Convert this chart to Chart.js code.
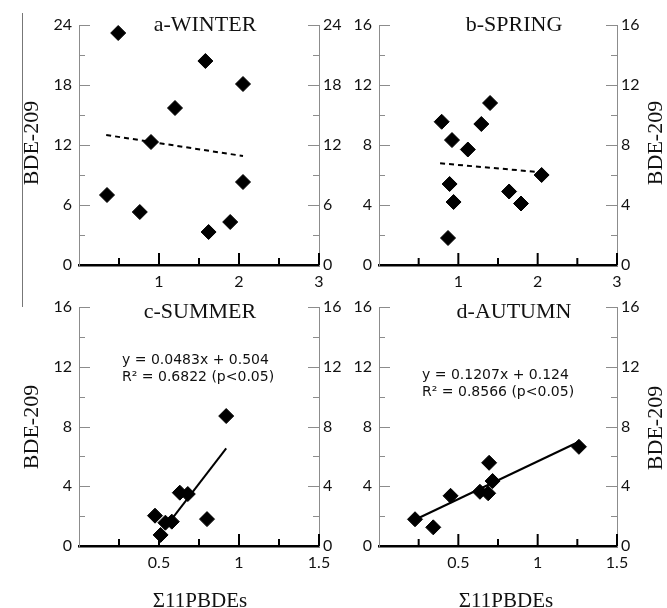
<!DOCTYPE html>
<html>
<head>
<meta charset="utf-8">
<script src="https://cdn.jsdelivr.net/npm/chart.js@4.4.0/dist/chart.umd.min.js"></script>
<style>
  body { margin: 0; background: #fff; }
  #wrap { position: relative; width: 667px; height: 608px; }
  canvas { position: absolute; }
  #rule { position: absolute; left: 22px; top: 13px; height: 294px; border-left: 1.5px solid #777; }
</style>
</head>
<body>
<div id="wrap">
  <div id="rule"></div>
  <canvas id="winter" width="346" height="290" style="left:0;top:0"></canvas>
  <canvas id="spring" width="321" height="290" style="left:346px;top:0"></canvas>
  <canvas id="summer" width="346" height="318" style="left:0;top:290px"></canvas>
  <canvas id="autumn" width="321" height="318" style="left:346px;top:290px"></canvas>
</div>
<script>
// values
const winterX = [0.49, 1.58, 2.05, 1.20, 0.90, 0.35, 0.76, 2.05, 1.89, 1.62];
const winterY = [23.2, 20.4, 18.1, 15.7, 12.3, 7.0, 5.3, 8.3, 4.3, 3.3];
const winterFitX = [0.34, 2.05];
const winterFitY = [13.0, 10.9];

const springX = [0.79, 1.40, 1.29, 0.92, 1.12, 2.05, 0.89, 1.64, 0.94, 1.79, 0.87];
const springY = [9.55, 10.8, 9.4, 8.33, 7.7, 6.0, 5.4, 4.9, 4.2, 4.1, 1.8];
const springFitX = [0.77, 2.05];
const springFitY = [6.78, 6.18];

const summerX = [0.92, 0.63, 0.68, 0.475, 0.54, 0.58, 0.51, 0.80];
const summerY = [8.7, 3.57, 3.48, 2.03, 1.56, 1.63, 0.74, 1.8];
const summerFitX = [0.54, 0.92];
const summerFitY = [1.25, 6.53];

const autumnX = [0.227, 0.342, 0.451, 0.636, 0.688, 0.694, 0.716, 1.26];
const autumnY = [1.79, 1.25, 3.36, 3.63, 3.53, 5.57, 4.35, 6.64];
const autumnFitX = [0.233, 1.26];
const autumnFitY = [1.79, 6.98];

// tick labels
const xLabelsTop = [1, 2, 3];
const xLabelsBottom = [0.5, 1, 1.5];
const yLabelsWinter = [0, 6, 12, 18, 24];
const yLabelsOther = [0, 4, 8, 12, 16];

const tickFont = { family: 'Lato', size: 16 };
const serif = '"Liberation Serif", serif';

function pts(xs, ys) {
  return xs.map((x, i) => ({ x: x, y: ys[i] }));
}

// inward ticks and the texts of each panel
const panelPlugin = {
  id: 'panel',
  beforeDatasetsDraw(chart, args, o) {
    const ctx = chart.ctx;
    const area = chart.chartArea;
    const sx = chart.scales.x;
    ctx.save();
    ctx.strokeStyle = '#8c8c8c';
    ctx.lineWidth = 1;
    [[chart.scales.y, area.left, 1], [chart.scales.y2, area.right, -1]].forEach(([s, edge, dir]) => {
      s.ticks.forEach(t => {
        if (t.value <= s.min) return;
        const py = Math.round(s.getPixelForValue(t.value)) + 0.5;
        const len = o.yLabels.includes(t.value) ? 11 : 6;
        ctx.beginPath();
        ctx.moveTo(edge, py);
        ctx.lineTo(edge + dir * len, py);
        ctx.stroke();
      });
    });
    ctx.strokeStyle = '#000';
    ctx.lineWidth = 2;
    sx.ticks.forEach(t => {
      if (t.value <= sx.min) return;
      const px = sx.getPixelForValue(t.value);
      const len = o.xLabels.includes(t.value) ? 12 : 7;
      ctx.beginPath();
      ctx.moveTo(px, area.bottom);
      ctx.lineTo(px, area.bottom - len);
      ctx.stroke();
    });
    ctx.restore();
  },
  afterDraw(chart, args, o) {
    const ctx = chart.ctx;
    ctx.save();
    ctx.fillStyle = '#111';
    ctx.font = '22px ' + serif;
    ctx.textAlign = 'center';
    ctx.textBaseline = 'alphabetic';
    ctx.fillText(o.title, o.titleX, o.titleY);

    if (o.axisTitleX) {
      ctx.font = '21px ' + serif;
      ctx.fillText('Σ11PBDEs', o.axisTitleX[0], o.axisTitleX[1]);
    }

    ctx.font = '22px ' + serif;
    ctx.textBaseline = 'middle';
    ctx.save();
    ctx.translate(o.sideX, o.sideY);
    ctx.rotate(-Math.PI / 2);
    ctx.fillText('BDE-209', 0, 0);
    ctx.restore();

    if (o.eq) {
      ctx.font = '14px "DejaVu Sans"';
      ctx.textAlign = 'left';
      ctx.textBaseline = 'alphabetic';
      o.eq.forEach((line, i) => ctx.fillText(line, o.eqX, o.eqY + i * 17));
    }
    ctx.restore();
  }
};

function makePanel(id, c) {
  const w = c.width, h = c.height;
  const yAxis = (pos, width) => ({
    type: 'linear',
    position: pos,
    min: 0,
    max: c.yMax,
    afterFit: s => { s.width = width; },
    grid: { display: false, drawTicks: false },
    border: { color: '#8c8c8c', width: 1 },
    ticks: {
      stepSize: c.yStep,
      padding: pos === 'left' ? 7 : 4,
      color: '#111',
      font: tickFont,
      autoSkip: false,
      callback: v => c.yLabels.includes(v) ? String(v) : ''
    }
  });
  new Chart(document.getElementById(id), {
    type: 'scatter',
    data: {
      datasets: [
        {
          data: pts(c.xs, c.ys),
          pointStyle: 'rectRot',
          pointRadius: 7.5,
          pointBackgroundColor: '#000',
          pointBorderColor: '#000',
          pointBorderWidth: 1
        },
        {
          data: pts(c.fitX, c.fitY),
          showLine: true,
          borderColor: '#000',
          borderWidth: 2,
          borderDash: c.dashed ? [5, 4] : [],
          pointRadius: 0
        }
      ]
    },
    options: {
      responsive: false,
      animation: false,
      layout: { padding: { left: 0, right: 0, top: c.area.t, bottom: 0 } },
      plugins: {
        legend: { display: false },
        tooltip: { enabled: false },
        panel: c.text
      },
      scales: {
        x: {
          type: 'linear',
          min: 0,
          max: c.xMax,
          afterFit: s => { s.height = h - c.area.b; },
          grid: { display: false, drawTicks: false },
          border: { color: '#000', width: 2.5 },
          ticks: {
            stepSize: c.xStep,
            padding: 7,
            color: '#111',
            font: tickFont,
            autoSkip: false,
            maxRotation: 0,
            callback: v => c.xLabels.includes(v) ? String(v) : ''
          }
        },
        y: yAxis('left', c.area.l),
        y2: yAxis('right', w - c.area.r)
      }
    },
    plugins: [panelPlugin]
  });
}

makePanel('winter', {
  width: 346, height: 290, area: { l: 79, r: 319, t: 25, b: 265 },
  xs: winterX, ys: winterY, fitX: winterFitX, fitY: winterFitY, dashed: true,
  xMax: 3, xStep: 0.5, xLabels: xLabelsTop, yMax: 24, yStep: 3, yLabels: yLabelsWinter,
  text: { title: 'a-WINTER', titleX: 205, titleY: 31, sideX: 32, sideY: 143,
          xLabels: xLabelsTop, yLabels: yLabelsWinter }
});

makePanel('spring', {
  width: 321, height: 290, area: { l: 33, r: 271, t: 25, b: 265 },
  xs: springX, ys: springY, fitX: springFitX, fitY: springFitY, dashed: true,
  xMax: 3, xStep: 0.5, xLabels: xLabelsTop, yMax: 16, yStep: 2, yLabels: yLabelsOther,
  text: { title: 'b-SPRING', titleX: 168, titleY: 31, sideX: 310, sideY: 143,
          xLabels: xLabelsTop, yLabels: yLabelsOther }
});

makePanel('summer', {
  width: 346, height: 318, area: { l: 79, r: 319, t: 17, b: 256 },
  xs: summerX, ys: summerY, fitX: summerFitX, fitY: summerFitY, dashed: false,
  xMax: 1.5, xStep: 0.25, xLabels: xLabelsBottom, yMax: 16, yStep: 2, yLabels: yLabelsOther,
  text: { title: 'c-SUMMER', titleX: 200, titleY: 28, sideX: 32, sideY: 137,
          axisTitleX: [200, 317],
          eq: ['y = 0.0483x + 0.504', 'R² = 0.6822 (p<0.05)'], eqX: 122, eqY: 74,
          xLabels: xLabelsBottom, yLabels: yLabelsOther }
});

makePanel('autumn', {
  width: 321, height: 318, area: { l: 33, r: 271, t: 17, b: 256 },
  xs: autumnX, ys: autumnY, fitX: autumnFitX, fitY: autumnFitY, dashed: false,
  xMax: 1.5, xStep: 0.25, xLabels: xLabelsBottom, yMax: 16, yStep: 2, yLabels: yLabelsOther,
  text: { title: 'd-AUTUMN', titleX: 168, titleY: 28, sideX: 310, sideY: 138,
          axisTitleX: [160, 317],
          eq: ['y = 0.1207x + 0.124', 'R² = 0.8566 (p<0.05)'], eqX: 76, eqY: 89,
          xLabels: xLabelsBottom, yLabels: yLabelsOther }
});
</script>
</body>
</html>
